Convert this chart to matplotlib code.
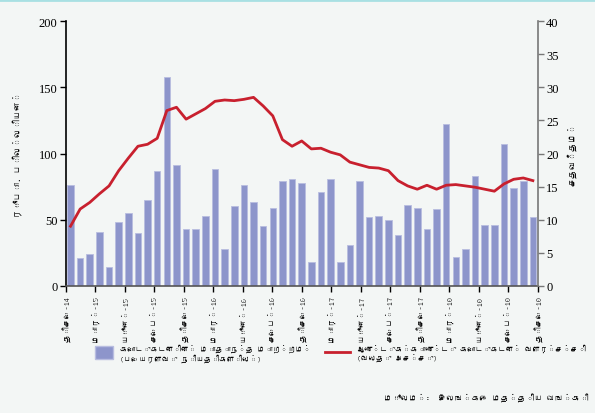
import matplotlib
matplotlib.use("Agg")
import matplotlib.pyplot as plt
from matplotlib import font_manager
from matplotlib.ft2font import FT2Font
from matplotlib.lines import Line2D
from matplotlib.patches import Patch
import numpy as np

# month labels every quarter, Dec-14 .. Dec-18
tick_labels = ["திசெ-14", "மார்-15", "யூன்-15", "செப்-15",
               "திசெ-15", "மார்-16", "யூன்-16", "செப்-16",
               "திசெ-16", "மார்-17", "யூன்-17", "செப்-17",
               "திசெ-17", "மார்-18", "யூன்-18", "செப்-18",
               "திசெ-18"]

# monthly change in credit (Rs. bn), Dec-14 .. Dec-18
monthly_change = [76, 21, 24, 41, 14, 48, 55, 40, 65, 87,
                  158, 91, 43, 43, 53, 88, 28, 60, 76, 63,
                  45, 59, 79, 81, 78, 18, 71, 81, 18, 31,
                  79, 52, 53, 50, 38, 61, 59, 43, 58, 122,
                  22, 28, 83, 46, 46, 107, 74, 79, 52]

# year-on-year credit growth (%), right axis
yoy_growth = [9.0, 11.6, 12.6, 13.9, 15.1, 17.4, 19.3, 21.1, 21.4, 22.3,
              26.5, 27.0, 25.2, 26.0, 26.8, 27.9, 28.1, 28.0, 28.2, 28.5,
              27.2, 25.7, 22.1, 21.1, 21.9, 20.7, 20.8, 20.2, 19.8, 18.7,
              18.3, 17.9, 17.8, 17.4, 15.9, 15.1, 14.6, 15.2, 14.6, 15.2,
              15.3, 15.1, 14.9, 14.6, 14.3, 15.4, 16.1, 16.3, 15.9]

bar_label = "கொடுகடனின் மாதாந்த மாற்றம்\n(பெயரளவு நியதிகளில்)"
line_label = "ஆண்டுக்காண்டு கொடுகடன் வளர்ச்சி\n(வலது அச்சு)"
left_title = "ரூபா. பில்லியன்"
right_title = "சதவீதம்"
source_head = "மூலம்:"
source_text = "இலங்கை மத்திய வங்கி"


def find_tamil_font():
    # look for any installed font that has Tamil letters
    for path in font_manager.findSystemFonts():
        try:
            cmap = FT2Font(path).get_charmap()
        except Exception:
            continue
        if 0x0B95 in cmap and 0x0BCD in cmap:
            font_manager.fontManager.addfont(path)
            return font_manager.FontProperties(fname=path).get_name()
    return None


tamil = find_tamil_font()
fams = ([tamil] if tamil else []) + ["Liberation Serif", "DejaVu Sans"]
plt.rcParams["font.family"] = fams

bg = "#f3f6f5"
bar_col = "#8d95cb"
line_col = "#c8202e"

fig = plt.figure(figsize=(5.95, 4.14), dpi=100, facecolor=bg)
ax = fig.add_axes([0.1104, 0.3075, 0.7933, 0.6385])
ax.set_facecolor(bg)

x = np.arange(len(monthly_change))
ax.bar(x, monthly_change, width=0.68, color=bar_col,
       edgecolor="#b8bde0", linewidth=0.6, zorder=2)
ax.set_xlim(-0.5, len(x) - 0.5)
ax.set_ylim(0, 200)
ax.set_yticks([0, 50, 100, 150, 200])
ax.set_xticks(np.linspace(-0.5, len(x) - 0.5, len(tick_labels)))
ax.set_xticklabels(tick_labels, rotation=90, fontsize=6)
ax.tick_params(axis="y", labelsize=9, length=4, width=1, pad=2,
               labelfontfamily="Liberation Serif")
ax.tick_params(axis="x", length=4, width=1, pad=3)
ax.set_ylabel(left_title, fontsize=6.5, labelpad=12)
for s in ["top", "right"]:
    ax.spines[s].set_visible(False)
ax.spines["left"].set_linewidth(1.2)
ax.spines["bottom"].set_color("#555555")
ax.spines["bottom"].set_linewidth(1.2)

ax2 = ax.twinx()
ax2.plot(x, yoy_growth, color=line_col, lw=2.0, zorder=3)
ax2.set_ylim(0, 40)
ax2.set_yticks(range(0, 41, 5))
ax2.tick_params(axis="y", labelsize=9, length=4, width=1, pad=2,
                color="#777777", labelfontfamily="Liberation Serif")
ax2.set_ylabel(right_title, fontsize=6.5, labelpad=6)
for s in ["top", "left", "bottom"]:
    ax2.spines[s].set_visible(False)
ax2.spines["right"].set_color("#777777")
ax2.spines["right"].set_linewidth(1.2)

# legend, drawn as two separate entries under the axis
fig.legend(handles=[Patch(facecolor=bar_col, edgecolor="#b8bde0")],
           labels=[bar_label], loc="upper left",
           bbox_to_anchor=(0.148, 0.185), frameon=False, fontsize=5.5,
           handlelength=2.3, handleheight=2.3, handletextpad=1.0)
fig.legend(handles=[Line2D([0], [0], color=line_col, lw=2.0)],
           labels=[line_label], loc="upper left",
           bbox_to_anchor=(0.535, 0.185), frameon=False, fontsize=5.5,
           handlelength=3.3, handletextpad=0.9)

src = fig.text(0.99, 0.03, source_text, ha="right", va="bottom", fontsize=6)
ax.annotate(source_head + "  ", xy=(0, 0), xycoords=src, ha="right",
            va="bottom", fontsize=6, style="italic", annotation_clip=False)

fig.add_artist(Line2D([0, 1], [0.997, 0.997], color="#a8e0e3", lw=2,
                      transform=fig.transFigure))

fig.savefig("out.png", dpi=100, facecolor=bg)
